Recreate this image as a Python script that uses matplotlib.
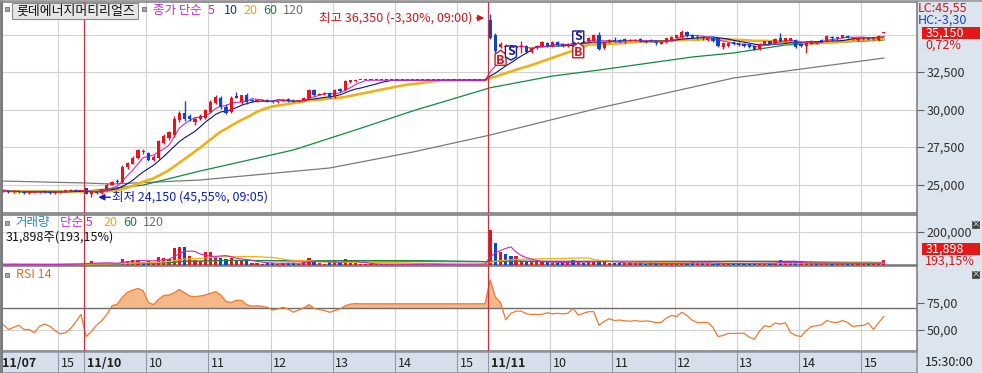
import numpy as np
import pandas as pd
import matplotlib
matplotlib.use('Agg')
import matplotlib.pyplot as plt
from matplotlib.patches import Polygon, Rectangle
from matplotlib.transforms import Affine2D

plt.rcParams['font.family'] = ['Noto Sans CJK KR', 'DejaVu Sans']

# ---------------- data ----------------
stock_name = '롯데에너지머티리얼즈'
sessions = [('2025-11-07 14:05', 16), ('2025-11-10 09:00', 78), ('2025-11-11 09:00', 77)]

opens = [24550, 24600, 24500, 24550, 24500, 24450, 24500, 24500, 24550, 24500, 24450, 24500, 24550, 24600, 24650, 24600,
         24750, 24400, 24500, 24450, 24650, 25000, 25250, 25150, 26150, 26400, 26750, 27150, 27100, 26650,
         26800, 27800, 28100, 28300, 29300, 29800, 29550, 29150, 29400, 29450, 29850, 30450, 30750, 30200,
         29850, 30900, 30500, 30950, 30650, 30550, 30600, 30650, 30600, 30500, 30550, 30700, 30600, 30550,
         30600, 30750, 31300, 31000, 31050, 31100, 30850, 31400, 31300, 31850, 31900] + [31950] * 25 + \
        [35950, 34950, 34150, 34150, 33900, 34100, 34200, 34250, 33850, 34100, 34250, 34450, 34250, 34500,
         34350, 34250, 34400, 34550, 34400, 34550, 34550, 35000, 34100, 34500, 34650, 34650, 34700, 34600,
         34600, 34700, 34600, 34650, 34500, 34400, 34500, 34600, 34800, 34850, 35200, 35000, 34850, 34800,
         34650, 34800, 34750, 34150, 34250, 34500, 34450, 34400, 34350, 34250, 34050, 34400, 34550, 34450,
         34800, 34550, 34600, 34650, 34400, 34250, 34400, 34450, 34650, 34600, 34850, 34800, 34800, 34900,
         34700, 34650, 34700, 34800, 34700, 34650, 35100]
highs = [24650, 24650, 24600, 24600, 24550, 24550, 24550, 24600, 24600, 24550, 24550, 24600, 24650, 24700, 24700, 24650,
         24800, 24550, 24600, 24700, 25100, 25250, 25350, 26300, 26500, 26900, 27400, 27350, 27150, 26950,
         28000, 28400, 28600, 29600, 29900, 30600, 29700, 29500, 29700, 30050, 30650, 30950, 30900, 30350,
         30900, 31150, 31000, 31100, 30700, 30650, 30650, 30700, 30650, 30600, 30700, 30800, 30700, 30650,
         30850, 31350, 31350, 31100, 31150, 31150, 31350, 31450, 31950, 31950, 31950] + [31950] * 25 + \
        [36350, 35100, 34500, 34350, 34150, 34250, 34600, 34300, 34150, 34300, 34550, 34500, 34550, 34550,
         34400, 34450, 34500, 34650, 34600, 34850, 35050, 35150, 34550, 34700, 34850, 34700, 34750, 34700,
         34700, 34750, 34650, 34700, 34600, 34550, 34800, 34900, 35000, 35300, 35250, 35050, 34950, 34900,
         34850, 34850, 34850, 34500, 34500, 34550, 34500, 34450, 34400, 34300, 34450, 34600, 34600, 34750,
         35100, 34800, 34800, 34700, 34450, 34550, 34650, 34550, 34700, 34950, 34900, 34850, 35000, 34950,
         34850, 34850, 34850, 34850, 34800, 34950, 35150]
lows = [24500, 24450, 24450, 24450, 24400, 24400, 24450, 24450, 24450, 24400, 24400, 24450, 24500, 24550, 24550, 24550,
        24350, 24150, 24400, 24400, 24600, 24950, 25100, 25100, 26050, 26350, 26700, 27050, 26600, 26550,
        26700, 27700, 27950, 28200, 29200, 29250, 29250, 29000, 29300, 29400, 29800, 30350, 30050, 29700,
        29750, 30750, 30400, 30400, 30500, 30500, 30550, 30500, 30450, 30450, 30550, 30500, 30500, 30500,
        30550, 30700, 30900, 30950, 31000, 30800, 30800, 31200, 31250, 31800, 31850] + [31950] * 25 + \
       [34700, 33800, 34100, 34050, 33850, 34000, 33800, 33750, 33800, 34050, 34200, 34200, 34200, 34250,
        34200, 34200, 34300, 34500, 34350, 34500, 34500, 34000, 34050, 34450, 34500, 34500, 34450, 34550,
        34550, 34500, 34450, 34500, 34300, 34350, 34450, 34550, 34750, 34800, 34850, 34750, 34700, 34650,
        34600, 34500, 34200, 34050, 34200, 34300, 34250, 34200, 34100, 33950, 34000, 34350, 34350, 34400,
        34500, 34500, 34550, 34100, 34200, 33800, 34350, 34400, 34500, 34550, 34600, 34650, 34750, 34750,
        34650, 34550, 34650, 34650, 34650, 34600, 35100]
closes = [24600, 24500, 24550, 24500, 24450, 24500, 24500, 24550, 24500, 24450, 24500, 24550, 24600, 24650, 24600, 24600,
          24400, 24500, 24450, 24650, 25000, 25200, 25150, 26200, 26450, 26800, 27300, 27200, 26650, 26850,
          27900, 28250, 28500, 29400, 29750, 29350, 29400, 29400, 29600, 30000, 30500, 30850, 30150, 29800,
          30800, 30800, 30950, 30500, 30550, 30600, 30650, 30550, 30500, 30550, 30650, 30550, 30500, 30600,
          30800, 31300, 31000, 31050, 31100, 30850, 31300, 31250, 31900, 31950, 31950] + [31950] * 25 + \
         [34750, 33900, 34400, 34250, 34100, 34200, 34250, 33850, 34100, 34250, 34500, 34250, 34500, 34300,
          34250, 34400, 34350, 34600, 34550, 34800, 35000, 34050, 34500, 34650, 34600, 34550, 34600, 34650,
          34650, 34550, 34500, 34550, 34450, 34500, 34750, 34850, 34950, 35200, 34900, 34800, 34800, 34750,
          34800, 34550, 34250, 34450, 34450, 34350, 34300, 34250, 34150, 34000, 34400, 34550, 34400, 34700,
          34550, 34750, 34750, 34200, 34250, 34450, 34600, 34550, 34550, 34900, 34750, 34750, 34950, 34800,
          34800, 34800, 34800, 34700, 34750, 34900, 35150]
volumes = [4000, 3000, 5000, 2000, 3000, 6000, 2000, 3000, 4000, 2000, 5000, 3000, 6000, 8000, 4000, 7000,
           15000, 22000, 8000, 9000, 12000, 14000, 9000, 35000, 22000, 30000,
           32000, 20000, 24000, 18000, 48000, 45000, 38000, 105000, 112000, 112000,
           55000, 30000, 24000, 80000, 78000, 50000, 42000, 36000, 45000, 32000,
           28000, 24000, 14000, 10000, 9000, 12000, 14000, 9000, 10000, 13000,
           12000, 8000, 18000, 42000, 24000, 10000, 9000, 16000, 30000, 14000,
           36000, 18000, 12000, 6000, 4000, 7000, 5000, 4000, 6000, 5000,
           3000, 6000, 5000, 4000, 7000, 5000, 3000, 4000, 6000, 3000,
           6000, 4000, 5000, 3000, 4000, 6000, 7000, 9000,
           211000, 134000, 81000, 68000, 56000, 56000, 24000, 20000, 22000, 17000,
           16000, 18000, 14000, 15000, 17000, 14000, 28000, 16000, 14000, 18000,
           24000, 32000, 17000, 14000, 12000, 11000, 10000, 12000, 11000, 10000,
           9000, 11000, 10000, 9000, 8000, 10000, 9000, 11000, 14000, 16000,
           12000, 11000, 10000, 9000, 10000, 8000, 9000, 11000, 10000, 12000,
           9000, 10000, 11000, 14000, 12000, 10000, 28000, 11000, 12000, 10000,
           14000, 11000, 10000, 12000, 11000, 10000, 9000, 11000, 12000, 10000,
           11000, 10000, 9000, 10000, 11000, 12000, 31898]

# long moving averages (bar index -> value)
ma60_idx = [0, 16, 27, 38, 56, 69, 79, 94, 106, 115, 133, 141, 151, 170]
ma60_val = [24560, 24560, 24960, 25900, 27300, 28750, 29900, 31450, 32230, 32630, 33500, 33770, 34300, 34630]
ma120_idx = [0, 16, 21, 38, 63, 79, 94, 115, 141, 170]
ma120_val = [25230, 25100, 25030, 25300, 26100, 27160, 28300, 30100, 32100, 33430]

rsi14 = [54.6, 50, 52, 54, 50, 50, 47, 53, 55, 53, 49, 46, 47, 51, 57, 64,
         43.5, 48, 54, 58, 64, 72, 73.5, 80, 84.5, 86.5, 88, 86, 75, 73,
         78, 81.5, 82, 84, 87, 84, 81, 80.5, 81, 82, 83.5, 85, 82, 76,
         75, 77, 77, 73, 71.5, 72, 71.5, 70.5, 68, 69, 70.5, 69, 66, 68,
         70, 73, 69.5, 68.5, 67.5, 66, 67.5, 69, 72, 73.5, 74] + [73.8] * 25 + \
        [96, 80, 75, 59, 65, 67, 67, 64.5, 64, 64, 64, 65.5, 64.5, 65,
         64.5, 65, 69.5, 63.5, 65, 66.5, 66.5, 54, 57.5, 60, 58.3, 58.8, 58, 57.7,
         58.3, 57.5, 58, 57.5, 56.5, 56.5, 60.5, 63, 62, 66, 63, 58.5, 56.5, 56.5,
         56.5, 52, 43.5, 44.5, 46.5, 46.3, 46.5, 46.5, 43, 41, 48.5, 53.5, 52.5, 56,
         55, 56.3, 47, 44.5, 43.5, 49, 52.8, 53.5, 54.5, 58.3, 56.8, 56.5, 58.3, 56.5,
         52.8, 53.5, 53.7, 56, 50, 56.5, 62]

sig_idx = [96, 98, 111, 111]
sig_kind = ['B', 'S', 'S', 'B']
sig_price = [33950, 33300, 34300, 34450]

price_ticks = [25000, 27500, 30000, 32500]
price_grid = [25000, 27500, 30000, 32500, 35000]
hi_text = '최고 36,350 (-3,30%, 09:00)'
lo_text = '최저 24,150 (45,55%, 09:05)'
hi_idx, hi_val = 94, 36350
lo_idx, lo_val = 17, 24150
cur_price_txt = '35,150'
cur_pct_txt = '0,72%'
lc_txt, hc_txt = 'LC:45,55', 'HC:-3,30'
vol_txt, vol_pct_txt = '31,898', '193,15%'
vol_info = '31,898주(193,15%)'

# ---------------- helpers ----------------
W, H = 982, 373
FS = 9
fig = plt.figure(figsize=(W / 100, H / 100), dpi=100)
fig.patch.set_facecolor('#dce4ee')

def ax_px(x0, y0, x1, y1):
    return fig.add_axes([x0 / W, 1 - y1 / H, (x1 - x0) / W, (y1 - y0) / H])

def ftext(x, y, s, **kw):
    kw.setdefault('va', 'center')
    kw.setdefault('ha', 'left')
    kw.setdefault('fontsize', FS)
    return fig.text(x / W, 1 - y / H, s, **kw)

RED = '#e8121a'
BLUE = '#1244c8'
C5, C10, C20, C60, C120 = '#c828c8', '#101080', '#f0b018', '#138a3c', '#7a7a7a'

times = pd.DatetimeIndex(np.concatenate([pd.date_range(s, periods=n, freq='5min').values for s, n in sessions]))
n = len(closes)
xi = np.arange(n)
o = np.array(opens, float); h = np.array(highs, float); l = np.array(lows, float); c = np.array(closes, float)
v = np.array(volumes, float)
XL = (-0.25, 176.4)

day_start = [0] + [i for i in range(1, n) if times[i].date() != times[i - 1].date()]
hour_pos = [i for i in range(n) if times[i].minute == 0 and i not in day_start]

X0, X1 = 2, 917
axp = ax_px(X0, 2, X1, 213)
axv = ax_px(X0, 215, X1, 265)
axr = ax_px(X0, 266, X1, 351)
axd = ax_px(X0, 352, X1, 373)

for ax in (axp, axv, axr, axd):
    ax.set_xlim(*XL)
    ax.set_xticks([])
    for sp in ax.spines.values():
        sp.set_color('#767676')
        sp.set_linewidth(1.1)
    ax.yaxis.tick_right()
    ax.tick_params(axis='y', length=5, width=0.8, color='#606060', labelsize=FS, pad=2, labelcolor='#303030')

for ax in (axp, axv, axr):
    ax.set_facecolor('white')
    for p in hour_pos:
        ax.axvline(p - 0.4, color='#d2d2d2', lw=0.8, zorder=0)
    for p in day_start[1:]:
        ax.axvline(p - 0.4, color='#c83040', lw=0.9, zorder=5)

# ---------------- price panel ----------------
axp.set_ylim(23100, 37167)
for g in price_grid:
    axp.axhline(g, color='#d2d2d2', lw=0.8, zorder=0)
axp.set_yticks(price_ticks)
axp.set_yticklabels([f'{t:,}' for t in price_ticks])

cs = pd.Series(c)
axp.plot(ma120_idx, ma120_val, color=C120, lw=0.9, zorder=2)
axp.plot(ma60_idx, ma60_val, color=C60, lw=0.9, zorder=2)
axp.plot(xi, cs.rolling(20, min_periods=1).mean(), color=C20, lw=1.9, zorder=2)
axp.plot(xi, cs.rolling(10, min_periods=1).mean(), color=C10, lw=0.8, zorder=2)
axp.plot(xi, cs.rolling(5, min_periods=1).mean(), color=C5, lw=0.8, zorder=2)

up = c >= o
col = np.where(up, RED, BLUE)
axp.vlines(xi, l, h, colors=col, lw=1.0, zorder=3)
bh = np.maximum(np.abs(c - o), 55)
axp.bar(xi, bh, bottom=np.minimum(o, c), width=0.62, color=col, linewidth=0, zorder=4)

axp.annotate('', xy=(hi_idx - 0.6, hi_val - 250), xytext=(hi_idx - 3.2, hi_val - 250),
             arrowprops=dict(arrowstyle='-|>', color='#d01818', lw=1.0, mutation_scale=9), zorder=6)
axp.text(hi_idx - 3.5, hi_val - 250, hi_text, color='#c81818', fontsize=FS, ha='right', va='center', zorder=6)
axp.annotate('', xy=(lo_idx + 0.8, lo_val), xytext=(lo_idx + 4.2, lo_val),
             arrowprops=dict(arrowstyle='-|>', color='#1020c0', lw=1.0, mutation_scale=9), zorder=6)
axp.text(lo_idx + 4.0, lo_val, lo_text, color='#1020b0', fontsize=FS, ha='left', va='center', zorder=6)

# ---------------- volume panel ----------------
axv.set_ylim(0, 303000)
axv.axhline(200000, color='#d2d2d2', lw=0.8, zorder=0)
axv.set_yticks([200000])
axv.set_yticklabels(['200,000'])
prev_c = np.concatenate([[c[0]], c[:-1]])
vcol = np.where(c >= prev_c, RED, BLUE)
axv.bar(xi, v, width=0.62, color=vcol, linewidth=0, zorder=3)
vs = pd.Series(v)
for w, colr, lw in ((120, C120, 0.8), (60, C60, 0.8), (20, C20, 0.9), (5, C5, 0.8)):
    axv.plot(xi, vs.rolling(w, min_periods=1).mean(), color=colr, lw=lw, zorder=4)

# ---------------- RSI panel ----------------
r = np.array(rsi14)
axr.set_ylim(30.1, 108.8)
axr.axhline(50, color='#d2d2d2', lw=0.8, zorder=0)
axr.axhline(70, color='#6c6c6c', lw=1.0, zorder=2)
axr.fill_between(xi, r, 70, where=r >= 70, interpolate=True, color='#f6b888', lw=0, zorder=1)
axr.plot(xi, r, color='#ec7a30', lw=0.9, zorder=3)
axr.set_yticks([50, 75])
axr.set_yticklabels(['50,00', '75,00'])

# ---------------- date bar ----------------
axd.set_facecolor('#d6dfea')
axd.set_yticks([])
axd.set_ylim(0, 1)
for sp in axd.spines.values():
    sp.set_color('#8a93a0')
labels = []
for i in sorted(set(day_start) | set(hour_pos)):
    if i in day_start:
        labels.append((i, times[i].strftime('%m/%d'), 'bold'))
    else:
        labels.append((i, str(times[i].hour), 'normal'))
for i, s, wt in labels:
    if i > 0:
        axd.axvline(i - 0.4, color='#8f98a6', lw=0.8)
    axd.text(i - 0.4 + (0.5 if i > 0 else 0.1), 0.45, s, fontsize=FS,
             fontweight=wt, ha='left', va='center', color='#202020')
ftext(925, 362, '15:30:00', color='#202020')

# ---------------- signals ----------------
fig.canvas.draw()
for i, kind, p in zip(sig_idx, sig_kind, sig_price):
    ax_, ay_ = axp.transData.transform((i, p))
    if kind == 'B':
        verts = [(0, 0), (5.5, -4), (5.5, -15), (-5.5, -15), (-5.5, -4)]
        ec, ty = '#d01820', -9.8
    else:
        verts = [(-5.5, 3), (0, 0), (5.5, 3), (5.5, 14), (-5.5, 14)]
        ec, ty = '#1a1a90', 8.3
    tr = Affine2D().translate(ax_, ay_)
    poly = Polygon(verts, closed=True, facecolor='white', edgecolor=ec, lw=1.0,
                   transform=tr, zorder=8, clip_on=False)
    fig.add_artist(poly)
    fig.text(ax_ / W, (ay_ + ty) / H, kind, color=ec, fontsize=FS, ha='center', va='center',
             fontweight='bold', zorder=9)

# ---------------- top-left legends ----------------
def small_sq(x, y):
    fig.add_artist(Rectangle((x / W, 1 - (y + 4) / H), 4 / W, 4 / H, transform=fig.transFigure,
                             facecolor='#a8a8a8', edgecolor='#707070', lw=0.6))

small_sq(5, 7)
fig.add_artist(Rectangle((12 / W, 1 - 19 / H), 126 / W, 16 / H, transform=fig.transFigure,
                         facecolor='#e6e6e6', edgecolor='#8a8a8a', lw=0.8))
ftext(16, 11, stock_name, color='#111111', fontsize=9.3)
small_sq(142, 7)
ftext(153, 10.5, '종가 단순', color=C5)
ftext(208, 10.5, '5', color=C5)
ftext(224, 10.5, '10', color='#1c2f8c')
ftext(243, 10.5, '20', color='#e0aa10')
ftext(263, 10.5, '60', color='#208040')
ftext(283, 10.5, '120', color='#707070')

small_sq(5, 221)
ftext(15, 223, '거래량', color='#2a8aa8')
ftext(60, 223, '단순 5', color=C5)
ftext(103, 223, '20', color='#e0aa10')
ftext(123, 223, '60', color='#208040')
ftext(143, 223, '120', color='#707070')
ftext(6, 237, vol_info, color='#111111')

small_sq(5, 273)
ftext(16, 275, 'RSI 14', color='#e07020')

# ---------------- right-side labels ----------------
ftext(918, 8, lc_txt, color='#d01818')
ftext(918, 20, hc_txt, color='#2040c0')
fig.add_artist(Rectangle((922 / W, 1 - 39 / H), 58 / W, 12 / H, transform=fig.transFigure,
                         facecolor='#e41818', edgecolor='none'))
ftext(926, 33, cur_price_txt, color='white')
ftext(925, 45, cur_pct_txt, color='#d01818')

fig.add_artist(Rectangle((922 / W, 1 - 255 / H), 58 / W, 12 / H, transform=fig.transFigure,
                         facecolor='#e41818', edgecolor='none'))
ftext(926, 249, vol_txt, color='white')
ftext(925, 261, vol_pct_txt, color='#d01818')

for yy in (224, 274):
    fig.add_artist(Rectangle((972 / W, 1 - (yy + 3.5) / H), 7 / W, 7 / H, transform=fig.transFigure,
                             facecolor='#404040', edgecolor='#404040', lw=0.5))
    ftext(975.5, yy, '×', color='white', fontsize=6, ha='center')

fig.add_artist(plt.Line2D([1 / W, 1 / W], [0, 1], color='#7a7a7a', lw=2))
fig.add_artist(plt.Line2D([0, 1], [1 - 1 / H, 1 - 1 / H], color='#9a9a9a', lw=1.2))

fig.savefig('out.png', dpi=100, facecolor=fig.get_facecolor())
